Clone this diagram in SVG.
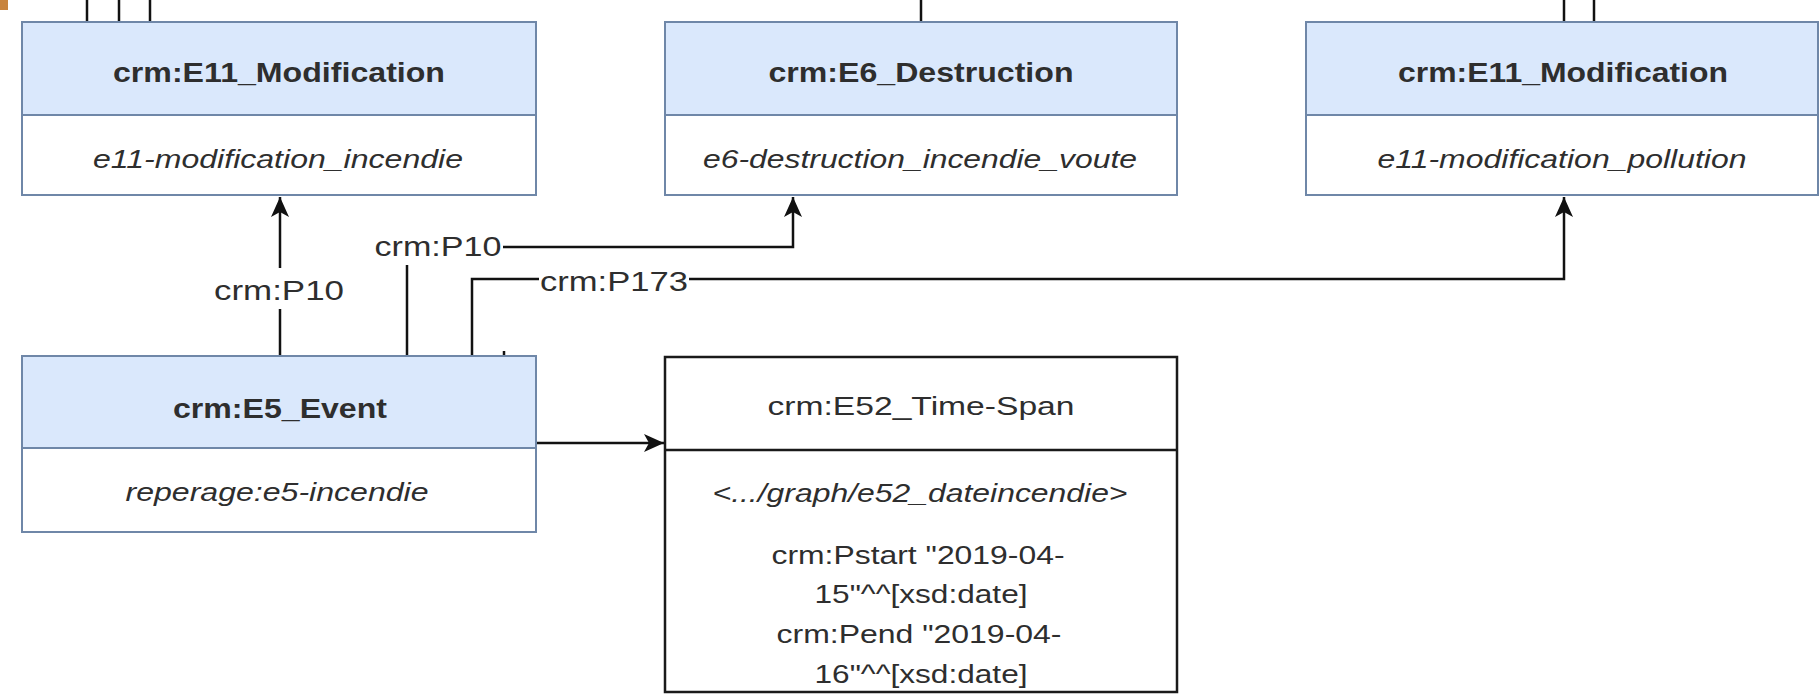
<svg xmlns="http://www.w3.org/2000/svg" width="1819" height="694" viewBox="0 0 1819 694">
<style>
.hdr{fill:#dae8fc;stroke:#6f87a8;stroke-width:2}
.body{fill:#ffffff;stroke:#6f87a8;stroke-width:2}
.plain{fill:#ffffff;stroke:#1a1a1a;stroke-width:2.5}
.t{font-family:"Liberation Sans",Arial,sans-serif;fill:#2e2e2e;text-anchor:middle}
.b{font-weight:bold;font-size:27px}
.i{font-style:italic;font-size:26px}
.r{font-size:26px}
.lbl{font-family:"Liberation Sans",Arial,sans-serif;fill:#2e2e2e;font-size:28px;text-anchor:middle}
.edge{fill:none;stroke:#111;stroke-width:2.5}
.lblbg{fill:#ffffff}
</style>
<defs>
<marker id="arr" markerUnits="userSpaceOnUse" markerWidth="24" markerHeight="20" refX="20" refY="10" orient="auto">
<path d="M0,1 L20,10 L0,19 L5,10 z" fill="#111"/>
</marker>
</defs>
<rect x="0" y="0" width="1819" height="694" fill="#ffffff"/>
<rect x="0" y="0" width="8" height="10" fill="#c8843e"/>

<g id="connectors">
<line class="edge" x1="87" y1="0" x2="87" y2="22"/>
<line class="edge" x1="119" y1="0" x2="119" y2="22"/>
<line class="edge" x1="150" y1="0" x2="150" y2="22"/>
<line class="edge" x1="921" y1="0" x2="921" y2="22"/>
<line class="edge" x1="1564" y1="0" x2="1564" y2="22"/>
<line class="edge" x1="1594" y1="0" x2="1594" y2="22"/>
<line class="edge" x1="504" y1="351" x2="504" y2="357"/>

<path id="e1" class="edge" d="M280,356 L280,197" marker-end="url(#arr)"/>
<rect class="lblbg" x="211" y="268" width="137" height="41"/>
<text class="lbl" x="279" y="300" textLength="130" lengthAdjust="spacingAndGlyphs">crm:P10</text>

<path id="e2" class="edge" d="M407,356 L407,247 L793,247 L793,197" marker-end="url(#arr)"/>
<rect class="lblbg" x="373" y="229" width="130" height="36"/>
<text class="lbl" x="438" y="256" textLength="127" lengthAdjust="spacingAndGlyphs">crm:P10</text>

<path id="e3" class="edge" d="M472,356 L472,279 L1564,279 L1564,197" marker-end="url(#arr)"/>
<rect class="lblbg" x="539" y="264" width="150" height="30"/>
<text class="lbl" x="614" y="291" textLength="148" lengthAdjust="spacingAndGlyphs">crm:P173</text>

<path id="e4" class="edge" d="M536,443 L664,443" marker-end="url(#arr)"/>
</g>

<g id="n-e11-incendie">
<rect class="body" x="22" y="22" width="514" height="173"/>
<rect class="hdr" x="22" y="22" width="514" height="93"/>
<text class="t b" x="279" y="82" textLength="332" lengthAdjust="spacingAndGlyphs">crm:E11_Modification</text>
<text class="t i" x="278" y="168" textLength="370" lengthAdjust="spacingAndGlyphs">e11-modification_incendie</text>
</g>

<g id="n-e6">
<rect class="body" x="665" y="22" width="512" height="173"/>
<rect class="hdr" x="665" y="22" width="512" height="93"/>
<text class="t b" x="921" y="82" textLength="305" lengthAdjust="spacingAndGlyphs">crm:E6_Destruction</text>
<text class="t i" x="920" y="168" textLength="434" lengthAdjust="spacingAndGlyphs">e6-destruction_incendie_voute</text>
</g>

<g id="n-e11-pollution">
<rect class="body" x="1306" y="22" width="512" height="173"/>
<rect class="hdr" x="1306" y="22" width="512" height="93"/>
<text class="t b" x="1563" y="82" textLength="330" lengthAdjust="spacingAndGlyphs">crm:E11_Modification</text>
<text class="t i" x="1562" y="168" textLength="369" lengthAdjust="spacingAndGlyphs">e11-modification_pollution</text>
</g>

<g id="n-e5">
<rect class="body" x="22" y="356" width="514" height="176"/>
<rect class="hdr" x="22" y="356" width="514" height="92"/>
<text class="t b" x="280" y="418" textLength="214" lengthAdjust="spacingAndGlyphs">crm:E5_Event</text>
<text class="t i" x="277" y="501" textLength="303" lengthAdjust="spacingAndGlyphs">reperage:e5-incendie</text>
</g>

<g id="n-e52">
<rect class="plain" x="665" y="357" width="512" height="335"/>
<line x1="665" y1="450" x2="1177" y2="450" stroke="#1a1a1a" stroke-width="2.5"/>
<text class="t r" x="921" y="415" textLength="307" lengthAdjust="spacingAndGlyphs">crm:E52_Time-Span</text>
<text class="t i" x="920" y="502" textLength="415" lengthAdjust="spacingAndGlyphs">&lt;.../graph/e52_dateincendie&gt;</text>
<text class="t r" x="918" y="564" textLength="293" lengthAdjust="spacingAndGlyphs">crm:Pstart "2019-04-</text>
<text class="t r" x="921" y="603" textLength="213" lengthAdjust="spacingAndGlyphs">15"^^[xsd:date]</text>
<text class="t r" x="919" y="643" textLength="285" lengthAdjust="spacingAndGlyphs">crm:Pend "2019-04-</text>
<text class="t r" x="921" y="683" textLength="213" lengthAdjust="spacingAndGlyphs">16"^^[xsd:date]</text>
</g>
</svg>
